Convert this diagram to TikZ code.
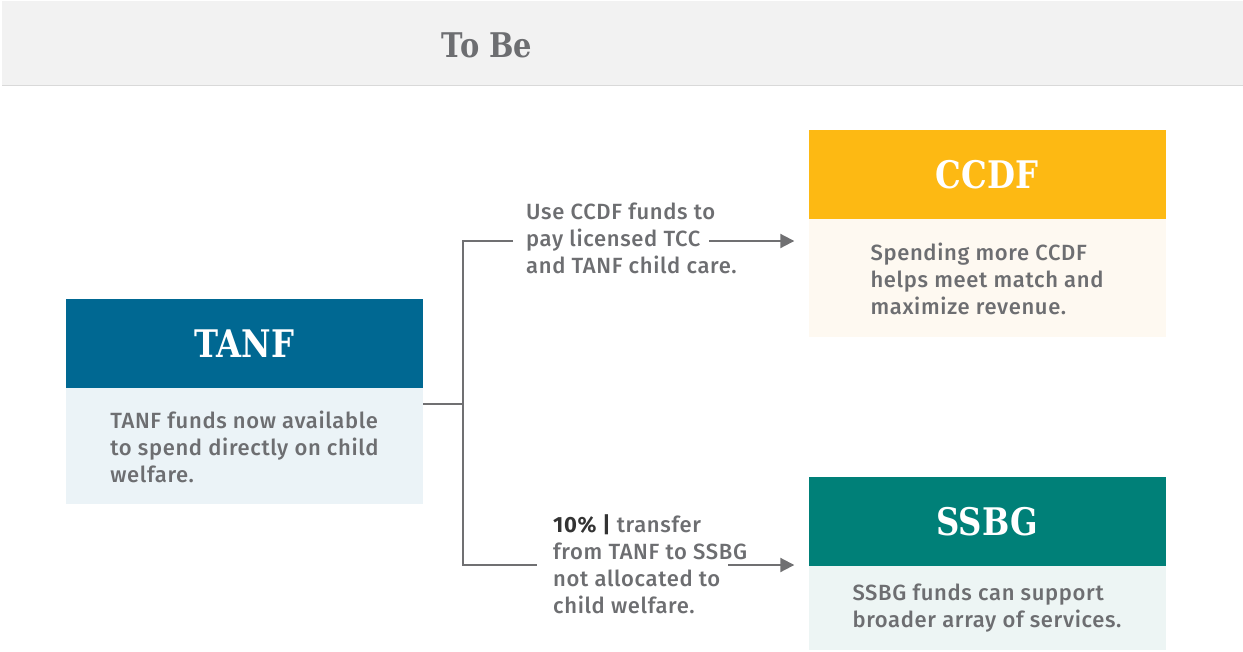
\documentclass[tikz,border=0pt]{standalone}
\usepackage{fontspec}
\setmainfont{Fira Sans Medium}[BoldFont={Fira Sans Bold},LetterSpace=3]
\newfontfamily\slab{DejaVu Serif}[FakeStretch=0.85]
\usetikzlibrary{arrows.meta}

\definecolor{tanfblue}{RGB}{0,104,146}
\definecolor{ccdfgold}{RGB}{253,185,19}
\definecolor{ssbgteal}{RGB}{0,128,120}
\definecolor{tanfbg}{RGB}{235,243,247}
\definecolor{ccdfbg}{RGB}{254,249,241}
\definecolor{ssbgbg}{RGB}{237,245,244}
\definecolor{txtgray}{RGB}{109,110,113}
\definecolor{linegray}{RGB}{112,112,114}
\definecolor{bandgray}{RGB}{242,242,242}
\definecolor{bandline}{RGB}{217,217,217}
\definecolor{boldgray}{RGB}{51,51,51}

\begin{document}
\begin{tikzpicture}[x=1pt,y=-1pt,
  hdr/.style={minimum width=357,minimum height=89,inner sep=0,text=white,
    font=\slab\bfseries\fontsize{38}{40}\selectfont},
  panel/.style={minimum width=357,anchor=north,inner sep=0,align=left,
    text=txtgray,font=\fontsize{22}{27}\selectfont},
  note/.style={anchor=north west,inner sep=0,align=left,
    text=txtgray,font=\fontsize{22}{27}\selectfont},
  link/.style={draw=linegray,line width=2},
  tip/.style={-{Triangle[length=14pt,width=14pt]},shorten >=14pt}]
  \useasboundingbox (0,0) rectangle (1243,651);

  % title band
  \fill[bandgray] (2,1) rectangle (1243,85);
  \draw[bandline,line width=1.5] (2,85.5) -- (1243,85.5);
  \node[text=txtgray,font=\slab\bfseries\fontsize{34}{36}\selectfont] at (487,45) (title) {To Be};

  % funding boxes
  \node[hdr,fill=tanfblue] at (244.5,343.5) (tanf) {TANF};
  \node[panel,fill=tanfbg,minimum height=116] at (tanf.south) (tanfnote)
    {TANF funds now available\\to spend directly on child\\welfare.};
  \node[hdr,fill=ccdfgold] at (987,174.5) (ccdf) {CCDF};
  \node[panel,fill=ccdfbg,minimum height=118] at (ccdf.south) (ccdfnote)
    {Spending more CCDF\\helps meet match and\\maximize revenue.};
  \node[hdr,fill=ssbgteal] at (987,521.5) (ssbg) {SSBG};
  \node[panel,fill=ssbgbg,minimum height=84] at (ssbg.south) (ssbgnote)
    {SSBG funds can support\\broader array of services.};

  % branch labels
  \node[note] at (526,203) (uselbl) {Use CCDF funds to\\pay licensed TCC\\and TANF child care.};
  \node[note] at (553,514) (xferlbl)
    {{\bfseries\color{boldgray}10\% |} transfer\\from TANF to SSBG\\not allocated to\\child welfare.};

  % connectors
  \coordinate (fork) at (463,404);
  \coordinate (cutA) at (513,241); \coordinate (cutB) at (709,241);
  \coordinate (cutC) at (537,565); \coordinate (cutD) at (728,565);
  \draw[link] (tanfnote.east |- fork) -- (fork);
  \draw[link] (cutA) -| (fork) |- (cutC);
  \draw[link,tip] (cutB) -- (ccdfnote.west |- cutB);
  \draw[link,tip] (cutD) -- (ssbgnote.west |- cutD);
\end{tikzpicture}
\end{document}
